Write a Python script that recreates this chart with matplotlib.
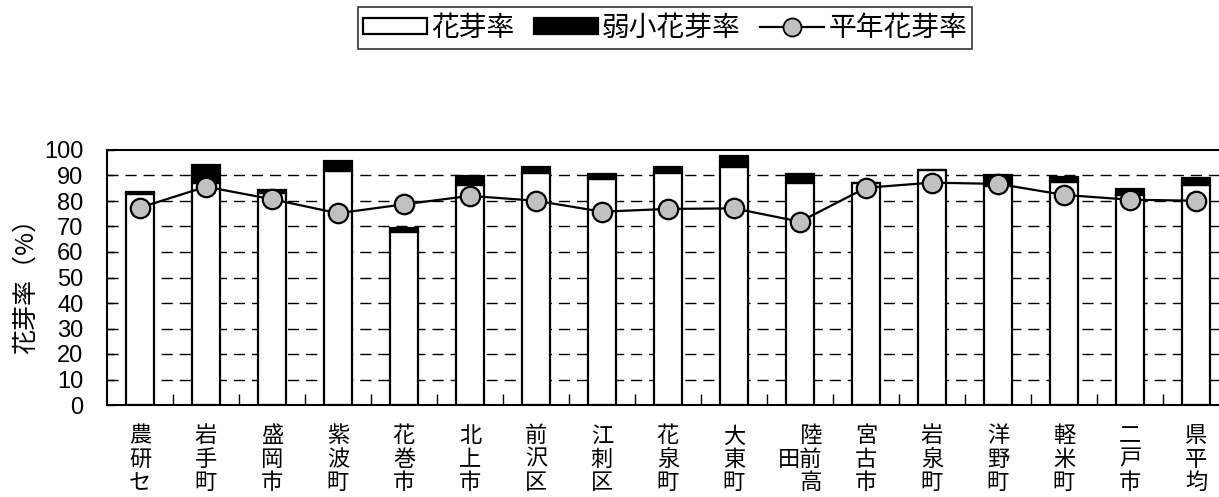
import numpy as np
import matplotlib
matplotlib.use("Agg")
import matplotlib.pyplot as plt
from matplotlib.patches import Patch
from matplotlib.lines import Line2D

# ============================================================
# Data
# ============================================================
SITES = ["農研セ", "岩手町", "盛岡市", "紫波町", "花巻市", "北上市", "前沢区",
         "江刺区", "花泉町", "大東町", "陸前高田", "宮古市", "岩泉町", "洋野町",
         "軽米町", "二戸市", "県平均"]

BUD_RATE = [82.7, 87.0, 83.0, 91.9, 67.7, 86.3, 90.8, 88.8, 90.8, 93.5,
            86.9, 87.1, 92.3, 86.0, 87.6, 82.5, 86.4]
WEAK_RATE = [0.8, 7.0, 1.5, 3.9, 1.7, 3.5, 2.5, 1.8, 2.5, 4.1,
             3.7, 0.0, 0.0, 4.3, 1.8, 2.2, 2.8]
NORMAL_RATE = [77.4, 85.6, 80.7, 75.2, 78.7, 82.0, 80.1, 75.8, 76.9, 77.1,
               71.9, 85.2, 87.2, 86.7, 82.4, 80.5, 80.1]

Y_TICKS = list(range(0, 101, 10))

# ============================================================
# Style
# ============================================================
plt.rcParams["font.family"] = ["Liberation Sans", "Noto Sans CJK JP", "DejaVu Sans"]
CJK = ["Noto Sans CJK JP", "DejaVu Sans"]


def vertical_label(name):
    # 4文字は2列（右から左へ折り返し）
    if len(name) == 4:
        return "\u3000{}\n{}{}\n\u3000{}".format(name[0], name[3], name[1], name[2])
    return "\n".join(name)


fig = plt.figure(figsize=(12.19, 4.97), dpi=100)
ax = fig.add_axes([107 / 1219, 92 / 497, 1122 / 1219, 255 / 497])

x = np.arange(len(SITES))
width = 0.41

ax.bar(x, BUD_RATE, width, color="white", edgecolor="black", linewidth=1.6, zorder=2)
ax.bar(x, WEAK_RATE, width, bottom=BUD_RATE, color="black", edgecolor="black",
       linewidth=1.6, zorder=2)
ax.plot(x, NORMAL_RATE, color="black", linewidth=1.6, marker="o", markersize=14,
        markerfacecolor="#c0c0c0", markeredgecolor="black", markeredgewidth=1.6, zorder=3)

ax.set_xlim(-0.5, len(SITES) - 0.5)
ax.set_ylim(0, 100)
ax.set_yticks(Y_TICKS)
ax.set_yticklabels([str(v) for v in Y_TICKS], fontsize=17)
ax.tick_params(axis="y", direction="in", length=5, width=1, pad=17)

ax.set_xticks(x)
ax.set_xticklabels([vertical_label(s) for s in SITES], fontsize=16, family=CJK,
                   linespacing=1.02)
ax.tick_params(axis="x", which="major", length=0, pad=14)
ax.set_xticks(x[:-1] + 0.5, minor=True)
ax.tick_params(axis="x", which="minor", direction="in", length=8, width=1)

for y in Y_TICKS[1:-1]:
    ax.axhline(y, color="black", linewidth=1, linestyle=(0, (8, 5)), zorder=1)

for side in ["left", "bottom", "top"]:
    ax.spines[side].set_linewidth(1.5)
ax.spines["right"].set_visible(False)

fig.text(26 / 1219, 1 - 280 / 497, "花芽率（%）", rotation=90, fontsize=18,
         family=CJK, ha="center", va="center")

handles = [
    Patch(facecolor="white", edgecolor="black", linewidth=1.6),
    Patch(facecolor="black", edgecolor="black", linewidth=1.6),
    Line2D([], [], color="black", linewidth=1.6, marker="o", markersize=13,
           markerfacecolor="#c0c0c0", markeredgecolor="black", markeredgewidth=1.3),
]
leg = fig.legend(handles, ["花芽率", "弱小花芽率", "平年花芽率"], loc="center",
                 bbox_to_anchor=(665 / 1219, 1 - 28 / 497), ncol=3, frameon=True,
                 fancybox=False, edgecolor="black", prop={"family": CJK, "size": 20},
                 handlelength=2.3, handleheight=0.5, handletextpad=0.15,
                 columnspacing=0.7, borderpad=0.2, borderaxespad=0)
leg.get_frame().set_linewidth(1.2)

fig.savefig("out.png", dpi=100)
